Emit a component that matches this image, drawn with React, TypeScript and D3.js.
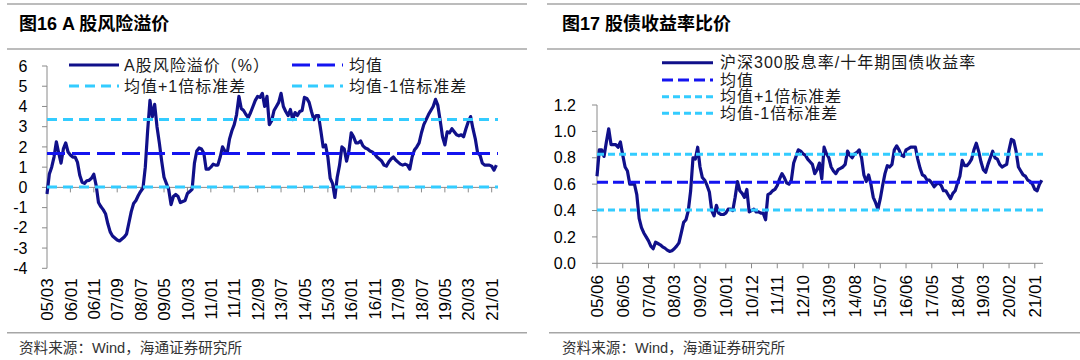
import React from "react";
import * as d3 from "d3";

const FONT = '"Liberation Sans", Arial, "Noto Sans CJK SC", sans-serif';
const NAVY = "#10108a";
const BLUE = "#1414f0";
const CYAN = "#33ccff";
const AXIS = "#8a8a8a";
const RULE = "#a6a6a6";

// ---------------- data: figure 16 ----------------
const riskTitle = "图16 A 股风险溢价";
const riskSeriesName = "A股风险溢价（%）";
const riskStartLabel = "05/03"; // first month of the monthly series (YY/MM)
const riskValues = [
  -0.33, 0.66, 1.0, 1.5, 2.25, 1.7, 1.2, 1.9, 2.2, 1.75,
  1.6, 1.5, 1.5, 1.25, 0.6, 0.25, 0.2, 0.33, 0.35, 0.45,
  0.65, 0.1, -0.75, -0.95, -1.1, -1.3, -1.8, -2.2, -2.4, -2.5,
  -2.6, -2.65, -2.55, -2.45, -2.3, -1.75, -1.2, -0.8, -0.65, -0.4,
  -0.2, -0.05, 1.0, 2.8, 4.3, 3.5, 4.1, 3.0, 2.2, 1.3,
  0.5, 0.2, -0.1, -0.85, -0.45, -0.35, -0.45, -0.75, -0.7, -0.65,
  -0.3, -0.2, -0.1, 1.2, 1.8, 1.95, 1.9, 1.7, 0.9, 0.9,
  1.0, 1.15, 1.1, 1.1, 1.5, 2.0, 1.8, 1.7, 2.4, 2.8,
  3.1, 3.6, 4.5, 3.9, 3.8, 3.6, 3.45, 3.7, 4.0, 4.3,
  4.5, 4.45, 4.65, 4.0, 4.5, 3.1, 3.3, 3.8, 4.0, 4.2,
  4.65, 4.0, 3.75, 3.55, 3.85, 3.35, 3.7, 3.55, 3.75, 3.8,
  4.45, 4.4, 4.2, 3.75, 3.35, 3.55, 3.55, 2.8, 2.0, 2.1,
  1.5, 0.45, 0.2, -0.5, 0.5, 1.1, 2.0, 1.9, 1.3, 1.8,
  2.7, 2.5, 2.2, 2.2, 2.3, 2.05, 1.95, 1.9, 1.8, 1.75,
  1.65, 1.5, 1.4, 1.3, 1.1, 1.05, 1.25, 1.4, 1.5, 1.35,
  1.25, 1.15, 1.1, 1.15, 1.1, 0.9, 1.5, 1.85, 2.0, 2.2,
  2.7, 3.1, 3.35, 3.6, 3.8, 4.0, 4.35, 4.05, 3.3, 2.5,
  2.1, 2.75, 2.7, 2.9, 2.75, 2.6, 2.55, 2.6, 2.5, 2.9,
  3.25, 3.5, 2.9, 2.4, 1.7, 1.6, 1.2, 1.1, 1.1, 1.1,
  1.05, 0.85, 1.1,
];
const riskMean = 1.68;
const riskUpper = 3.36;
const riskLower = 0.02;
const riskXTickLabels = [
  "05/03", "06/01", "06/11", "07/09", "08/07", "09/05", "10/03", "11/01", "11/11", "12/09",
  "13/07", "14/05", "15/03", "16/01", "16/11", "17/09", "18/07", "19/05", "20/03", "21/01",
];
const riskYTicks = [-4, -3, -2, -1, 0, 1, 2, 3, 4, 5, 6];

// ---------------- data: figure 17 ----------------
const ratioTitle = "图17 股债收益率比价";
const ratioSeriesName = "沪深300股息率/十年期国债收益率";
const ratioStartLabel = "05/06";
const ratioValues = [
  0.66, 0.86, 0.86, 0.81, 0.92, 1.02, 0.9, 0.9, 0.9, 0.88,
  0.92, 0.82, 0.73, 0.7, 0.6, 0.6, 0.6, 0.52, 0.34, 0.27,
  0.23, 0.2, 0.17, 0.13, 0.11, 0.16, 0.15, 0.14, 0.125, 0.115,
  0.1, 0.09, 0.095, 0.11, 0.13, 0.155, 0.23, 0.31, 0.33, 0.4,
  0.55, 0.8, 0.79, 0.88, 0.73, 0.65, 0.63, 0.59, 0.54, 0.4,
  0.36, 0.44, 0.38, 0.37, 0.37, 0.38, 0.41, 0.41, 0.4, 0.5,
  0.62, 0.55, 0.53, 0.5, 0.56, 0.39, 0.4, 0.41, 0.39, 0.39,
  0.38, 0.38, 0.33, 0.52, 0.53, 0.55, 0.56, 0.59, 0.64, 0.68,
  0.65, 0.61, 0.6, 0.63, 0.76, 0.81, 0.86, 0.85, 0.83, 0.82,
  0.79, 0.77, 0.75, 0.68, 0.71, 0.76, 0.64, 0.88, 0.83, 0.8,
  0.73, 0.7, 0.68, 0.71, 0.72, 0.73, 0.75, 0.85, 0.82, 0.8,
  0.83, 0.84, 0.86, 0.8, 0.67, 0.62, 0.67, 0.6, 0.5, 0.46,
  0.41, 0.49, 0.59, 0.68, 0.74, 0.73, 0.75, 0.86, 0.89, 0.86,
  0.82, 0.81, 0.86, 0.87, 0.88, 0.88, 0.88, 0.79, 0.72, 0.67,
  0.66, 0.63, 0.63, 0.61, 0.58, 0.6, 0.61, 0.59, 0.55, 0.55,
  0.52, 0.49, 0.53, 0.55, 0.61, 0.66, 0.78, 0.74, 0.74, 0.76,
  0.79, 0.86, 0.91, 0.85, 0.77, 0.71, 0.69, 0.75, 0.8, 0.85,
  0.8, 0.79, 0.75, 0.73, 0.74, 0.75, 0.86, 0.94, 0.93, 0.85,
  0.73, 0.7, 0.67, 0.66, 0.63, 0.62, 0.6, 0.56, 0.55, 0.6,
  0.63,
];
const ratioMean = 0.615;
const ratioUpper = 0.826;
const ratioLower = 0.404;
const ratioXTickLabels = [
  "05/06", "06/05", "07/04", "08/03", "09/02", "10/01", "10/12", "11/11", "12/10",
  "13/09", "14/08", "15/07", "16/06", "17/05", "18/04", "19/03", "20/02", "21/01",
];
const ratioYTicks = [0, 0.2, 0.4, 0.6, 0.8, 1.0, 1.2];

const refNames = ["均值", "均值+1倍标准差", "均值-1倍标准差"];
const sourceText = "资料来源：Wind，海通证券研究所";

// ---------------- helpers ----------------
function monthsBetween(a: string, b: string) {
  const [ya, ma] = a.split("/").map(Number);
  const [yb, mb] = b.split("/").map(Number);
  return (yb - ya) * 12 + (mb - ma);
}

type PanelProps = {
  x0: number;
  x1: number;
  domainEnd: number;
  yDomain: [number, number];
  yTop: number;
  yBottom: number;
  values: number[];
  startLabel: string;
  tickLabels: string[];
  yTicks: number[];
  yFmt: (v: number) => string;
  refs: [number, number, number];
  meanDash: string;
  sdDash: string;
  xLabelTop: number;
  yLabelRight: number;
};

function Panel(p: PanelProps) {
  const x = d3.scaleLinear().domain([0, p.domainEnd]).range([p.x0, p.x1]);
  const y = d3.scaleLinear().domain(p.yDomain).range([p.yBottom, p.yTop]);
  const line = d3
    .line<number>()
    .x((_, i) => x(i))
    .y((d) => y(d));
  const y0 = y(0);
  return (
    <g>
      {/* y axis */}
      <line x1={p.x0} x2={p.x0} y1={y(p.yDomain[0])} y2={y(p.yDomain[1])} stroke={AXIS} strokeWidth={1} />
      {p.yTicks.map((t) => (
        <g key={"y" + t}>
          <line x1={p.x0 - 5} x2={p.x0} y1={y(t)} y2={y(t)} stroke={AXIS} strokeWidth={1} />
          <text x={p.yLabelRight} y={y(t)} dy="0.35em" textAnchor="end" fontSize={16} fill="#000">
            {p.yFmt(t)}
          </text>
        </g>
      ))}
      {/* x axis */}
      <line x1={p.x0} x2={p.x1} y1={y0} y2={y0} stroke={AXIS} strokeWidth={1} />
      {p.tickLabels.map((lab) => {
        const xx = x(monthsBetween(p.startLabel, lab));
        return (
          <g key={"x" + lab}>
            <line x1={xx} x2={xx} y1={y0} y2={y0 + 5} stroke={AXIS} strokeWidth={1} />
            <text
              transform={`translate(${xx},${p.xLabelTop}) rotate(-90)`}
              textAnchor="end"
              dy="0.36em"
              fontSize={17}
              fill="#000"
            >
              {lab}
            </text>
          </g>
        );
      })}
      {/* series */}
      <path d={line(p.values) || ""} fill="none" stroke={NAVY} strokeWidth={3.2} strokeLinejoin="round" />
      {/* reference lines */}
      <line x1={p.x0} x2={p.x1} y1={y(p.refs[0])} y2={y(p.refs[0])} stroke={BLUE} strokeWidth={3} strokeDasharray={p.meanDash} />
      <line x1={p.x0} x2={p.x1} y1={y(p.refs[1])} y2={y(p.refs[1])} stroke={CYAN} strokeWidth={3} strokeDasharray={p.sdDash} />
      <line x1={p.x0} x2={p.x1} y1={y(p.refs[2])} y2={y(p.refs[2])} stroke={CYAN} strokeWidth={3} strokeDasharray={p.sdDash} />
    </g>
  );
}

function LegendItem(props: { x1: number; x2: number; tx: number; y: number; color: string; dash?: string; label: string }) {
  return (
    <g>
      <line x1={props.x1} x2={props.x2} y1={props.y} y2={props.y} stroke={props.color} strokeWidth={3} strokeDasharray={props.dash} />
      <text x={props.tx} y={props.y} dy="0.36em" fontSize={16} letterSpacing={1} fill="#1a1a1a">
        {props.label}
      </text>
    </g>
  );
}

export default function App() {
  const leftMeanDash = "18 7";
  const leftSdDash = "10 6";
  const rightMeanDash = "11 5";
  const rightSdDash = "7 4";
  return (
    <div style={{ position: "absolute", left: 0, top: 0, background: "#fff" }}>
      <svg width={1080} height={360} style={{ display: "block", fontFamily: FONT }}>
        <rect width={1080} height={360} fill="#fff" />
        {/* ---------- left panel frame ---------- */}
        <line x1={7} x2={527} y1={4} y2={4} stroke={RULE} strokeWidth={1.5} />
        <text x={19} y={29.5} fontSize={18} fontWeight="bold" fill="#000">
          {riskTitle}
        </text>
        <line x1={7} x2={527} y1={49} y2={49} stroke={RULE} strokeWidth={1.5} />
        <line x1={7} x2={527} y1={332.7} y2={332.7} stroke={RULE} strokeWidth={1.5} />
        <text x={19} y={353} fontSize={14.6} fill="#333">
          {sourceText}
        </text>

        <Panel
          x0={47}
          x1={498}
          domainEnd={192.7}
          yDomain={[-4, 6]}
          yTop={66}
          yBottom={268.3}
          values={riskValues}
          startLabel={riskStartLabel}
          tickLabels={riskXTickLabels}
          yTicks={riskYTicks}
          yFmt={(v) => String(v)}
          refs={[riskMean, riskUpper, riskLower]}
          meanDash={leftMeanDash}
          sdDash={leftSdDash}
          xLabelTop={278.3}
          yLabelRight={27.5}
        />
        <LegendItem x1={69} x2={119} tx={124} y={65} color={NAVY} label={riskSeriesName} />
        <LegendItem x1={292} x2={343} tx={349} y={65} color={BLUE} dash={leftMeanDash} label={refNames[0]} />
        <LegendItem x1={69} x2={119} tx={124} y={86} color={CYAN} dash={leftSdDash} label={refNames[1]} />
        <LegendItem x1={292} x2={343} tx={349} y={86} color={CYAN} dash={leftSdDash} label={refNames[2]} />

        {/* ---------- right panel frame ---------- */}
        <line x1={547} x2={1080} y1={4} y2={4} stroke={RULE} strokeWidth={1.5} />
        <text x={562} y={29.5} fontSize={18} fontWeight="bold" fill="#000">
          {ratioTitle}
        </text>
        <line x1={547} x2={1080} y1={49} y2={49} stroke={RULE} strokeWidth={1.5} />
        <line x1={549} x2={1080} y1={332.7} y2={332.7} stroke={RULE} strokeWidth={1.5} />
        <text x={562} y={353} fontSize={14.6} fill="#333">
          {sourceText}
        </text>

        <Panel
          x0={597}
          x1={1043}
          domainEnd={190.5}
          yDomain={[0, 1.2]}
          yTop={105}
          yBottom={263.3}
          values={ratioValues}
          startLabel={ratioStartLabel}
          tickLabels={ratioXTickLabels}
          yTicks={ratioYTicks}
          yFmt={(v) => v.toFixed(1)}
          refs={[ratioMean, ratioUpper, ratioLower]}
          meanDash={rightMeanDash}
          sdDash={rightSdDash}
          xLabelTop={275}
          yLabelRight={576}
        />
        <LegendItem x1={662} x2={713} tx={720} y={62.7} color={NAVY} label={ratioSeriesName} />
        <LegendItem x1={662} x2={713} tx={720} y={80} color={BLUE} dash={rightMeanDash} label={refNames[0]} />
        <LegendItem x1={662} x2={713} tx={720} y={96.7} color={CYAN} dash={rightSdDash} label={refNames[1]} />
        <LegendItem x1={662} x2={713} tx={720} y={113.3} color={CYAN} dash={rightSdDash} label={refNames[2]} />
      </svg>
    </div>
  );
}
